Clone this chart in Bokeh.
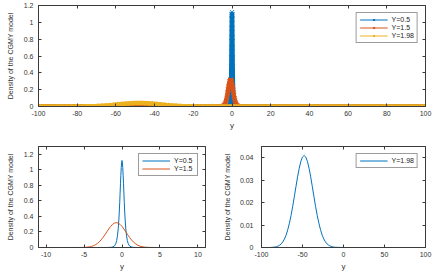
from bokeh.plotting import figure
from bokeh.layouts import column, row
from bokeh.models import Range1d, FixedTicker, LinearAxis, CustomJSTickFormatter
from bokeh.embed import file_html
from bokeh.resources import INLINE

# ---------------- data ----------------
labels = ["Y=0.5", "Y=1.5", "Y=1.98"]
colors = ["#0072BD", "#D95319", "#EDB120"]

x_05 = [-100, -3, -2, -1.7, -1.4, -1.2, -1.0, -0.9, -0.8, -0.7, -0.6, -0.5, -0.4, -0.35,
        -0.3, -0.25, -0.2, -0.15, -0.1, -0.05, 0, 0.05, 0.1, 0.15, 0.2, 0.25, 0.3, 0.35,
        0.4, 0.5, 0.6, 0.7, 0.8, 0.9, 1.0, 1.2, 1.4, 1.7, 2, 3, 100]
y_05 = [0, 0, 0.0003, 0.001, 0.003, 0.008, 0.02, 0.033, 0.055, 0.09, 0.15, 0.24, 0.38, 0.47,
        0.58, 0.70, 0.82, 0.93, 1.03, 1.09, 1.12, 1.09, 1.03, 0.93, 0.82, 0.70, 0.58, 0.47,
        0.38, 0.24, 0.15, 0.09, 0.055, 0.033, 0.02, 0.008, 0.003, 0.001, 0.0003, 0, 0]

x_15 = [-100, -11, -7, -6.25, -5.75, -5.25, -4.75, -4.5, -4.25, -4.0, -3.75, -3.5, -3.25,
        -3.0, -2.75, -2.5, -2.25, -2.0, -1.75, -1.5, -1.25, -1.0, -0.75, -0.5, -0.25, 0,
        0.25, 0.5, 0.75, 1.0, 1.25, 1.5, 1.75, 2.0, 2.25, 2.5, 2.75, 3.0, 3.25, 3.75, 4.25,
        5, 11, 100]
y_15 = [0, 0, 0, 0.0001, 0.0003, 0.001, 0.003, 0.0055, 0.009, 0.015, 0.023, 0.035, 0.051,
        0.072, 0.098, 0.129, 0.164, 0.201, 0.238, 0.271, 0.297, 0.314, 0.32, 0.314, 0.297, 0.271,
        0.238, 0.201, 0.164, 0.129, 0.098, 0.0716, 0.050, 0.034, 0.022, 0.014, 0.0085, 0.005, 0.0028, 0.0008, 0.0002,
        0, 0, 0]

x_198 = [-100, -90, -86, -84, -82, -80, -78, -76, -74, -72, -70, -68, -66, -64, -62, -60,
         -58, -56, -54, -52, -50, -48, -46, -44, -42, -40, -38, -36, -34, -32, -30, -28,
         -26, -24, -22, -20, -18, -16, -14, -12, -10, 0, 10, 20, 30, 40, 50, 60, 70, 80, 90, 100]
y_198 = [0, 0, 0.0001, 0.0002, 0.0003, 0.0006, 0.0010, 0.0016, 0.0025, 0.0038, 0.0055, 0.0079,
         0.0108, 0.0142, 0.0182, 0.0226, 0.0271, 0.0315, 0.0353, 0.0384, 0.0403, 0.0410, 0.0403,
         0.0384, 0.0353, 0.0315, 0.0271, 0.0226, 0.0182, 0.0142, 0.0108, 0.0079, 0.0055, 0.0038,
         0.0025, 0.0016, 0.0010, 0.0006, 0.0003, 0.0002, 0.0001, 0, 0, 0, 0, 0, 0, 0, 0, 0, 0, 0]

assert len(x_05) == len(y_05) and len(x_15) == len(y_15) and len(x_198) == len(y_198)

top_xticks = [-100, -80, -60, -40, -20, 0, 20, 40, 60, 80, 100]
top_yticks = [0, 0.2, 0.4, 0.6, 0.8, 1, 1.2]
bl_xticks = [-10, -5, 0, 5, 10]
bl_yticks = [0, 0.2, 0.4, 0.6, 0.8, 1, 1.2]
br_xticks = [-100, -50, 0, 50, 100]
br_yticks = [0, 0.01, 0.02, 0.03, 0.04]

ylabel = "Density of the CGMY model"
xlabel = "y"

# ---------------- styling helpers ----------------
AX = "#3a3a3a"
TXT = "#333333"
FONT = "Liberation Sans"
FMT = "return String(Math.round(tick*10000)/10000);"


def make_fig(w, h, xr, yr, xt, yt, bl, br, bt, bb, ystand, ylstand):
    p = figure(width=w, height=h, x_range=Range1d(*xr), y_range=Range1d(*yr),
               output_backend="svg", toolbar_location=None,
               min_border_left=bl, min_border_right=br, min_border_top=bt, min_border_bottom=bb,
               background_fill_color="white", border_fill_color="white")
    p.xgrid.visible = False
    p.ygrid.visible = False
    p.outline_line_color = AX
    p.outline_line_width = 1
    for ax, ticks, lab in ((p.xaxis[0], xt, xlabel), (p.yaxis[0], yt, ylabel)):
        ax.ticker = FixedTicker(ticks=ticks)
        ax.formatter = CustomJSTickFormatter(code=FMT)
        ax.axis_label = lab
        ax.axis_label_text_font = FONT
        ax.axis_label_text_font_style = "normal"
        ax.axis_label_text_color = TXT
        ax.major_label_text_font = FONT
        ax.major_label_text_font_size = "7px"
        ax.major_label_text_color = TXT
        ax.major_tick_in = 3
        ax.major_tick_out = 0
        ax.minor_tick_in = 0
        ax.minor_tick_out = 0
        ax.major_tick_line_color = AX
        ax.axis_line_color = AX
    p.xaxis[0].major_label_standoff = 4
    p.xaxis[0].axis_label_text_font_size = "8px"
    p.xaxis[0].axis_label_standoff = 2
    p.yaxis[0].major_label_standoff = ystand
    p.yaxis[0].axis_label_text_font_size = "7px"
    p.yaxis[0].axis_label_standoff = ylstand
    # mirrored box ticks (top and right)
    for side, ticks in (("above", xt), ("right", yt)):
        a = LinearAxis(ticker=FixedTicker(ticks=ticks),
                       formatter=CustomJSTickFormatter(code="return '';"),
                       major_label_text_font_size="0px", major_label_standoff=0,
                       major_tick_in=3, major_tick_out=0, minor_tick_in=0, minor_tick_out=0,
                       major_tick_line_color=AX, axis_line_color=AX)
        p.add_layout(a, side)
    return p


def style_legend(p, gw):
    lg = p.legend[0]
    lg.location = "top_right"
    lg.label_text_font = FONT
    lg.label_text_font_size = "7px"
    lg.label_text_color = "#222222"
    lg.label_height = 7
    lg.glyph_height = 7
    lg.glyph_width = gw
    lg.label_standoff = 4
    lg.spacing = 1
    lg.padding = 3
    lg.margin = 7
    lg.border_line_color = AX
    lg.border_line_width = 1
    lg.background_fill_alpha = 1


# ---------------- top panel ----------------
top = make_fig(436, 140, (-100, 100), (0, 1.2), top_xticks, top_yticks, 38, 11, 5, 34, 5, 7)
for xs, ys, c, lab in ((x_05, y_05, colors[0], labels[0]),
                       (x_15, y_15, colors[1], labels[1]),
                       (x_198, y_198, colors[2], labels[2])):
    top.line(xs, ys, line_color=c, line_width=4.5)
    top.line(xs, ys, line_color=c, line_width=1, legend_label=lab)
    top.scatter(xs, ys, marker="x", size=6, line_color=c, line_width=1, legend_label=lab)
style_legend(top, 28)

# ---------------- bottom-left panel ----------------
bl = make_fig(220, 133, (-11, 11), (0, 1.3), bl_xticks, bl_yticks, 38, 15, 6, 26, 5, 7)
bl.line(x_05, y_05, line_color=colors[0], line_width=1, legend_label=labels[0])
bl.line(x_15, y_15, line_color=colors[1], line_width=1, legend_label=labels[1])
style_legend(bl, 28)

# ---------------- bottom-right panel ----------------
br = make_fig(216, 133, (-100, 100), (0, 0.045), br_xticks, br_yticks, 38, 11, 6, 26, 8, 6)
br.line(x_198, y_198, line_color=colors[0], line_width=1, legend_label=labels[2])
style_legend(br, 28)

layout = column(top, row(bl, br, spacing=0), spacing=0)
open("out.html", "w").write(file_html(layout, INLINE))
